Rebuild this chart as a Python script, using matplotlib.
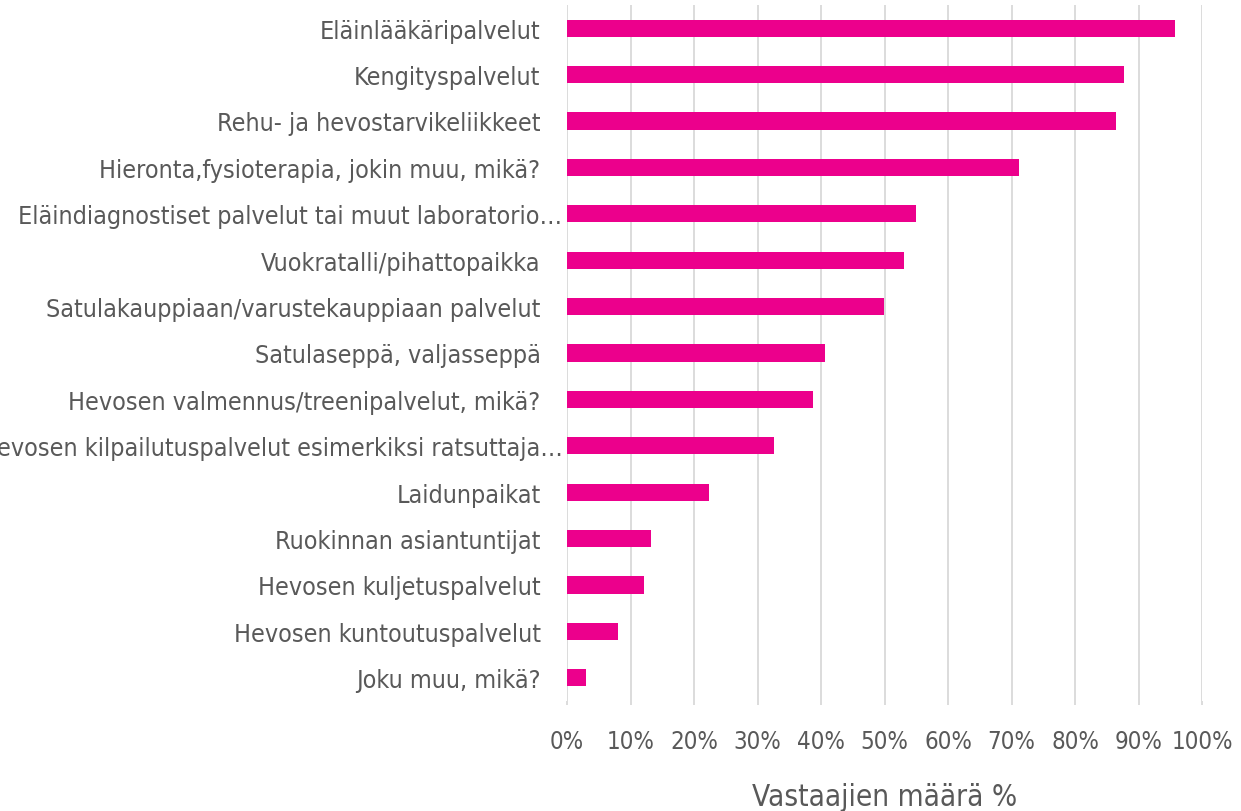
import matplotlib
matplotlib.use("Agg")
import matplotlib.pyplot as plt
import matplotlib.transforms as mtransforms
from matplotlib.ticker import FuncFormatter

# Palvelut ja vastaajien osuus (%)
categories = [
    "Eläinlääkäripalvelut",
    "Kengityspalvelut",
    "Rehu- ja hevostarvikeliikkeet",
    "Hieronta,fysioterapia, jokin muu, mikä?",
    "Eläindiagnostiset palvelut tai muut laboratorio…",
    "Vuokratalli/pihattopaikka",
    "Satulakauppiaan/varustekauppiaan palvelut",
    "Satulaseppä, valjasseppä",
    "Hevosen valmennus/treenipalvelut, mikä?",
    "Hevosen kilpailutuspalvelut esimerkiksi ratsuttaja…",
    "Laidunpaikat",
    "Ruokinnan asiantuntijat",
    "Hevosen kuljetuspalvelut",
    "Hevosen kuntoutuspalvelut",
    "Joku muu, mikä?",
]
values = [95.8, 87.7, 86.5, 71.2, 54.9, 53.0, 49.9, 40.7, 38.8, 32.6, 22.3, 13.3, 12.2, 8.0, 3.0]
xticks = list(range(0, 101, 10))
xlabel = "Vastaajien määrä %"

bar_color = "#EC008C"
text_color = "#595959"
grid_color = "#D9D9D9"

plt.rcParams["font.family"] = ["DejaVu Sans"]
plt.rcParams["font.stretch"] = "condensed"

fig = plt.figure(figsize=(12.41, 8.12), dpi=100)
ax = fig.add_axes([567 / 1241, 1 - 702 / 812, (1202 - 567) / 1241, (702 - 6) / 812])

ypos = list(range(len(categories)))
ax.barh(ypos, values, height=0.37, color=bar_color, zorder=3)

ax.set_xlim(0, 100)
ax.set_ylim(len(categories) - 0.5, -0.5)
ax.set_xticks(xticks)
ax.xaxis.set_major_formatter(FuncFormatter(lambda v, p: f"{int(v)}%"))
ax.set_yticks(ypos)
ax.set_yticklabels(categories)

ax.grid(axis="x", color=grid_color, linewidth=1.3, zorder=0)
for s in ax.spines.values():
    s.set_visible(False)

ax.tick_params(axis="y", length=0, pad=19, labelsize=18, labelcolor=text_color)
ax.tick_params(axis="x", length=3, width=1.3, color=grid_color, pad=17,
               labelsize=17.3, labelcolor=text_color)

# katkaistut nimet ulottuvat lähemmäs akselia
shift = mtransforms.ScaledTranslation(22 / 100, 0, fig.dpi_scale_trans)
for lbl in ax.get_yticklabels():
    if lbl.get_text().endswith("…"):
        lbl.set_transform(lbl.get_transform() + shift)

ax.set_xlabel(xlabel, fontsize=21.3, color=text_color, labelpad=21)

fig.savefig("out.png", dpi=100)
plt.close(fig)
